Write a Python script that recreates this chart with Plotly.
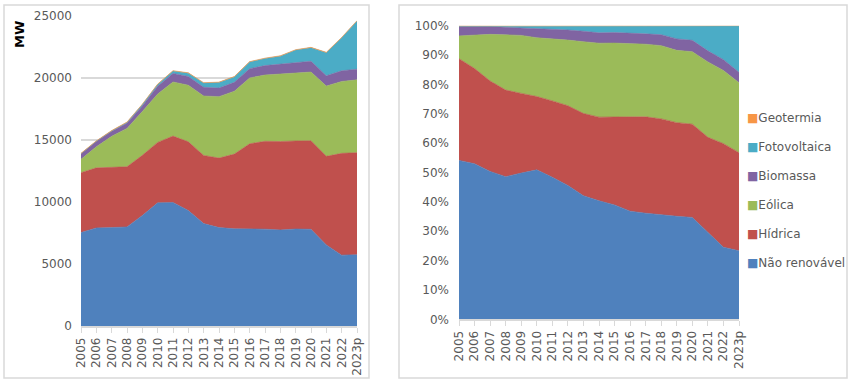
import plotly.graph_objects as go

W, H = 852, 382

anos = ['2005', '2006', '2007', '2008', '2009', '2010', '2011', '2012', '2013', '2014',
        '2015', '2016', '2017', '2018', '2019', '2020', '2021', '2022', '2023p']

# Potência instalada (MW)
nao_renovavel = [7530, 7900, 7930, 7980, 8900, 9920, 9950, 9300, 8250, 7930,
                 7830, 7840, 7800, 7740, 7810, 7790, 6530, 5710, 5740]
hidrica = [4820, 4840, 4850, 4850, 4850, 4870, 5350, 5540, 5490, 5600,
           6020, 6840, 7080, 7120, 7100, 7130, 7140, 8200, 8220]
eolica = [1080, 1700, 2500, 3090, 3530, 3900, 4360, 4560, 4790, 4950,
          5060, 5310, 5340, 5430, 5480, 5540, 5660, 5790, 5870]
biomassa = [450, 440, 420, 420, 450, 620, 690, 700, 700, 690,
            720, 740, 760, 810, 870, 870, 830, 860, 860]
fotovoltaica = [3, 5, 15, 60, 110, 150, 190, 270, 340, 450,
                440, 540, 570, 640, 970, 1090, 1860, 2660, 3880]
geotermia = [30, 30, 30, 30, 30, 30, 30, 30, 30, 30,
             30, 30, 30, 30, 30, 30, 30, 30, 30]

series = [
    ('Não renovável', nao_renovavel, '#4F81BD'),
    ('Hídrica', hidrica, '#C0504D'),
    ('Eólica', eolica, '#9BBB59'),
    ('Biomassa', biomassa, '#8064A2'),
    ('Fotovoltaica', fotovoltaica, '#4BACC6'),
    ('Geotermia', geotermia, '#F79646'),
]

FONT = 'DejaVu Sans'
TXT = '#595959'
GRID = '#d9d9d9'

fig = go.Figure()

for i, (name, vals, col) in enumerate(series):
    fig.add_trace(go.Scatter(
        x=anos, y=vals, name=name, stackgroup='abs', mode='lines',
        line=dict(width=0.6, color=col), fillcolor=col,
        showlegend=False, xaxis='x', yaxis='y', hoverinfo='skip'))

for i, (name, vals, col) in enumerate(series):
    fig.add_trace(go.Scatter(
        x=anos, y=vals, name=name, stackgroup='pct', mode='lines',
        groupnorm='percent' if i == 0 else None,
        line=dict(width=0.6, color=col), fillcolor=col,
        showlegend=False, xaxis='x2', yaxis='y2', hoverinfo='skip'))


def px_x(p):
    return p / W


def px_y(p):
    return 1 - p / H


xcommon = dict(type='category', range=[0, len(anos) - 1], tickangle=-90,
               showline=True, linecolor=GRID, linewidth=1.5,
               ticks='outside', ticklen=5, tickcolor=GRID,
               tickfont=dict(family=FONT, size=12, color=TXT),
               showgrid=False, automargin=False, fixedrange=True)

fig.update_layout(
    width=W, height=H,
    margin=dict(l=0, r=0, t=0, b=0),
    paper_bgcolor='white', plot_bgcolor='white',
    font=dict(family=FONT, size=12, color=TXT),
    xaxis=dict(domain=[px_x(81), px_x(357)], anchor='y', **xcommon),
    yaxis=dict(domain=[px_y(326), px_y(15.7)], anchor='x', range=[0, 25000],
               dtick=5000, tickformat='d', showgrid=True, gridcolor=GRID,
               gridwidth=1.5, zeroline=False, showline=False, ticks='',
               ticklabelstandoff=8,
               tickfont=dict(family=FONT, size=12, color=TXT),
               automargin=False, fixedrange=True),
    xaxis2=dict(domain=[px_x(459), px_x(739)], anchor='y2', **xcommon),
    yaxis2=dict(domain=[px_y(319.3), px_y(25.7)], anchor='x2', range=[0, 100],
                dtick=10, ticksuffix='%', showgrid=True, gridcolor=GRID,
                gridwidth=1.5, zeroline=False, showline=False, ticks='',
                ticklabelstandoff=9,
                tickfont=dict(family=FONT, size=12, color=TXT),
                automargin=False, fixedrange=True),
    showlegend=False,
)

# panel borders
for x0, x1 in [(4, 369), (399, 847)]:
    fig.add_shape(type='rect', xref='paper', yref='paper',
                  x0=px_x(x0), x1=px_x(x1), y0=px_y(378), y1=px_y(5),
                  line=dict(color=GRID, width=1.5), fillcolor='rgba(0,0,0,0)',
                  layer='below')

# y-axis title (left chart)
fig.add_annotation(text='<b>MW</b>', xref='paper', yref='paper',
                   x=px_x(19), y=px_y(35), textangle=-90, showarrow=False,
                   xanchor='center', yanchor='middle',
                   font=dict(family=FONT, size=13, color='#000000'))

# legend (right chart), top to bottom: reversed stacking order
for k, (name, vals, col) in enumerate(reversed(series)):
    fig.add_annotation(
        text=f"<span style='color:{col}'>■</span>{name}",
        xref='paper', yref='paper', x=px_x(745), y=px_y(118 + k * 29),
        xanchor='left', yanchor='middle', showarrow=False,
        font=dict(family=FONT, size=12, color=TXT))

fig.write_html('out.html', config={'displayModeBar': False},
               post_script="document.body.style.margin='0';document.body.style.padding='0';")
